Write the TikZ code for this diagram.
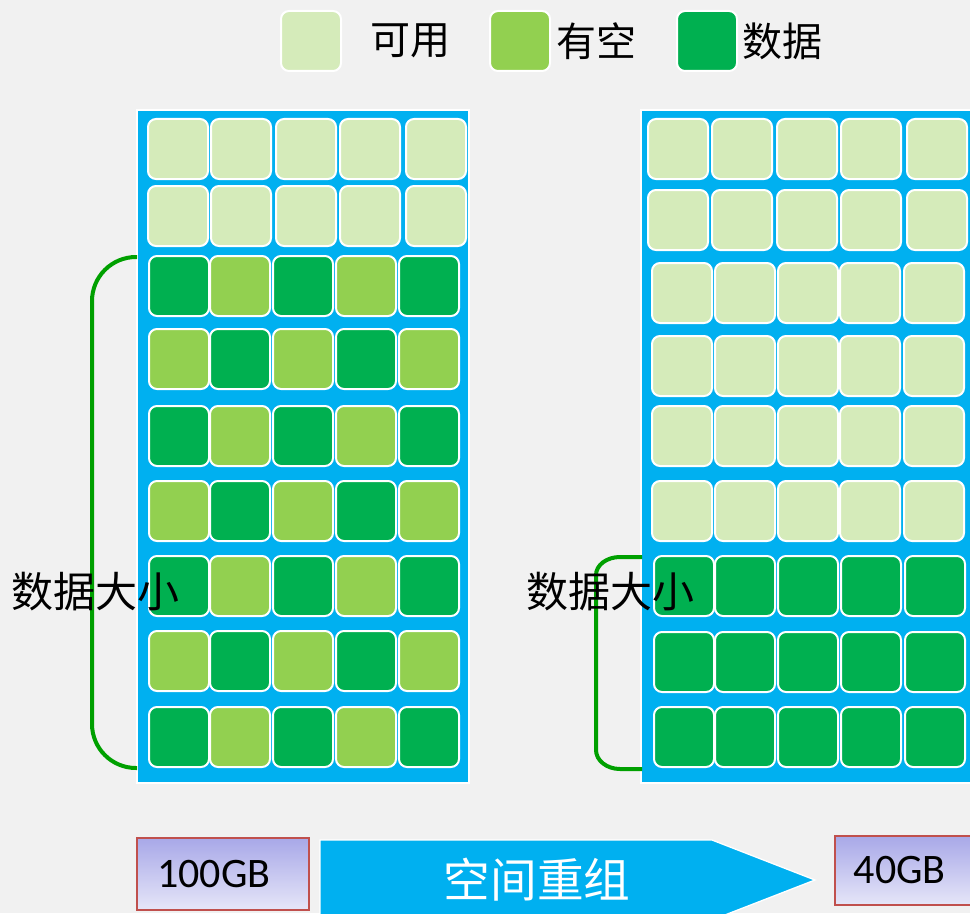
\documentclass[tikz,border=0pt]{standalone}
\usepackage{fontspec}
\setmainfont{Carlito}
\newfontfamily\cjk{Noto Sans CJK SC}
\usetikzlibrary{positioning}
\definecolor{bg}{HTML}{F1F1F1}
\definecolor{pale}{HTML}{D5EBBA}
\definecolor{half}{HTML}{92D050}
\definecolor{full}{HTML}{00B050}
\definecolor{panel}{HTML}{00B0F0}
\definecolor{brace}{HTML}{00A000}
\definecolor{boxline}{HTML}{C0504D}
\definecolor{boxtop}{HTML}{A8A8E8}
\definecolor{boxbot}{HTML}{E6E6F8}
\begin{document}
\begin{tikzpicture}[x=0.75pt,y=-0.75pt]
\tikzstyle{every node}+=[inner sep=0pt]
\tikzstyle{cell}=[draw=white,line width=1.5pt,rounded corners=6pt,minimum width=45pt,minimum height=45pt]
\tikzstyle{keytext}=[font=\cjk\fontsize{30}{36}\selectfont]
\tikzstyle{sizetext}=[font=\cjk\fontsize{31.5}{38}\selectfont]
\tikzstyle{gbbox}=[draw=boxline,line width=1.2pt,top color=boxtop,bottom color=boxbot,font=\fontsize{31.5}{38}\selectfont]
\tikzstyle{bracket}=[brace,line width=3pt]

\fill [bg] (0,0) rectangle (970,913);
\clip (0,0) rectangle (970,913);

% legend
\node [cell,fill=pale] (keyfree) at (311,41) {};
\node [cell,fill=half] (keyhalf) at (520,41) {};
\node [cell,fill=full] (keyfull) at (707,41) {};
\node [keytext,right=21pt of keyfree] (keyfreetext) {可用};
\node [keytext,right=4pt of keyhalf] (keyhalftext) {有空};
\node [keytext,right=3pt of keyfull] (keyfulltext) {数据};

% panels
\node [draw=white,line width=1.2pt,fill=panel,minimum width=249pt,minimum height=504.75pt] (oldpanel) at (303,446.5) {};
\node [draw=white,line width=1.2pt,fill=panel,minimum width=249pt,minimum height=504.75pt] (newpanel) at (807,446.5) {};

% left cells
\foreach \r/\y in {1/149,2/216}
  \foreach \c/\x in {1/178,2/241,3/306,4/370,5/436}
    \node [cell,fill=pale] (old-\r-\c) at (\x,\y) {};
\foreach \r/\y in {3/286,4/359,5/436,6/511,7/586,8/661,9/737}
  \foreach \c/\x in {1/179,2/240,3/303,4/366,5/429} {
    \pgfmathtruncatemacro\odd{mod(\r+\c,2)}
    \ifnum\odd=0 \def\tone{full}\else\def\tone{half}\fi
    \node [cell,fill=\tone] (old-\r-\c) at (\x,\y) {};
  }

% right cells
\foreach \r/\y in {1/149,2/220}
  \foreach \c/\x in {1/678,2/742,3/807,4/871,5/937}
    \node [cell,fill=pale] (new-\r-\c) at (\x,\y) {};
\foreach \r/\y in {3/293,4/366,5/436,6/511}
  \foreach \c/\x in {1/682,2/745,3/808,4/870,5/934}
    \node [cell,fill=pale] (new-\r-\c) at (\x,\y) {};
\foreach \r/\y in {7/586,8/662,9/737}
  \foreach \c/\x in {1/684,2/745,3/808,4/871,5/935}
    \node [cell,fill=full] (new-\r-\c) at (\x,\y) {};

% brackets
\draw [bracket,rounded corners=33pt] (137,257) -- (92,257) -- (92,768) -- (137,768);
\draw [bracket] (642,557) -- (620,557) arc (270:180:24 and 18) -- (596,750) arc (180:90:24 and 19) -- (642,769);
\node [sizetext] (oldsize) at (96,592) {数据大小};
\node [sizetext] (newsize) at (610,592) {数据大小};

% bottom
\node [gbbox,minimum width=129pt,minimum height=54pt] (before) at (223,874) {\hspace*{-13.5pt}100GB};
\node [gbbox,minimum width=105pt,minimum height=52pt] (after) at (905,870.5) {\hspace*{-8pt}40GB};
\draw [fill=panel,draw=white,line width=1pt] (320,840) -- (712,840) -- (815,880) -- (712,920) -- (320,920) -- cycle;
\node [font=\cjk\fontsize{35}{42}\selectfont,text=white] (regroup) at (537,880) {空间重组};
\end{tikzpicture}
\end{document}
